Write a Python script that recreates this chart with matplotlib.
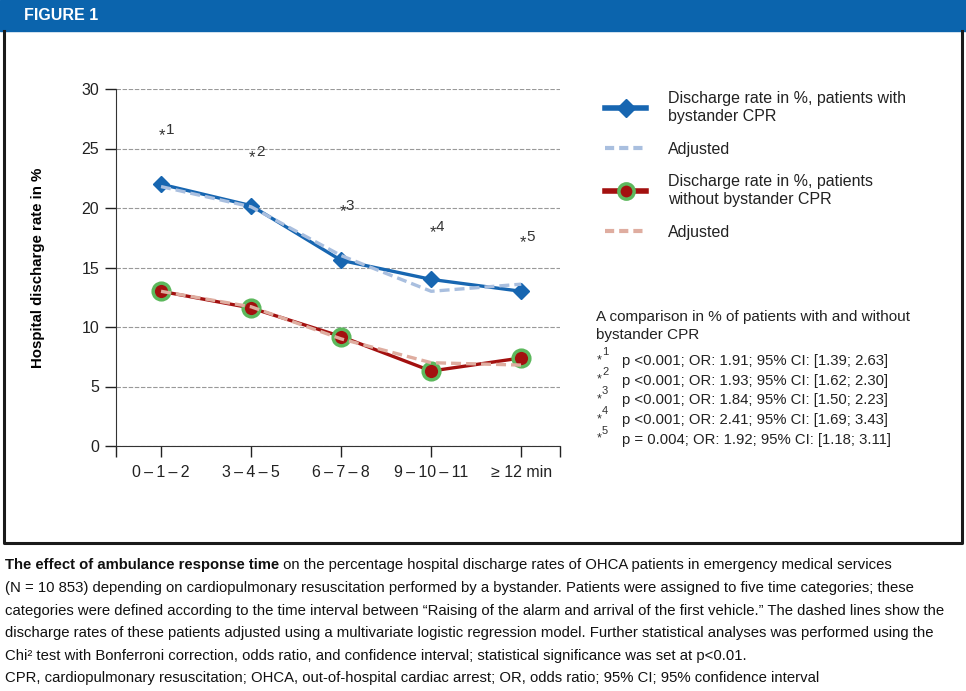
import matplotlib
matplotlib.use("Agg")
from matplotlib import pyplot as plt
from matplotlib import font_manager
from matplotlib.lines import Line2D
from matplotlib.patches import Rectangle
from matplotlib.text import Annotation
import numpy as np

plt.rcParams['font.family'] = ['Liberation Sans', 'DejaVu Sans']

names = {f.name for f in font_manager.fontManager.ttflist}
narrow = 'Liberation Sans Narrow' if 'Liberation Sans Narrow' in names else 'Liberation Sans'

# data
categories = ['0\u2009\u2013\u20091\u2009\u2013\u20092', '3\u2009\u2013\u20094\u2009\u2013\u20095',
              '6\u2009\u2013\u20097\u2009\u2013\u20098', '9\u2009\u2013\u200910\u2009\u2013\u200911',
              '\u2265 12 min']
with_cpr = [22.0, 20.2, 15.6, 14.0, 13.0]
with_cpr_adj = [21.8, 20.1, 16.0, 13.0, 13.6]
without_cpr = [13.0, 11.6, 9.2, 6.3, 7.4]
without_cpr_adj = [13.0, 11.7, 9.0, 7.0, 6.8]
star_y = [26.3, 24.4, 19.9, 18.15, 17.3]
stats = ['p <0.001; OR: 1.91; 95% CI: [1.39; 2.63]',
         'p <0.001; OR: 1.93; 95% CI: [1.62; 2.30]',
         'p <0.001; OR: 1.84; 95% CI: [1.50; 2.23]',
         'p <0.001; OR: 2.41; 95% CI: [1.69; 3.43]',
         'p = 0.004; OR: 1.92; 95% CI: [1.18; 3.11]']

blue = '#1766b1'
blue_light = '#a9bfdf'
red = '#a3100f'
red_light = '#dfada0'
green = '#5cb85c'

W, H = 966, 691
fig = plt.figure(figsize=(W/100, H/100), dpi=100)

def fx(px):
    return px / W

def fy(py):
    return 1 - py / H

# header band and frame
fig.patches.append(Rectangle((0, fy(31)), 1, 31/H, transform=fig.transFigure,
                             color='#0b64ad', zorder=0))
fig.text(fx(24), fy(16), 'FIGURE 1', color='white', fontsize=11.5, fontweight='bold',
         va='center', ha='left')
fig.add_artist(Line2D([fx(4), fx(4), fx(962), fx(962)], [fy(31), fy(543), fy(543), fy(31)],
                      transform=fig.transFigure, color='#1a1a1a', lw=2.2))

ax = fig.add_axes([fx(116), fy(446), fx(560 - 116), (446 - 89)/H])
x = np.arange(len(categories))

ax.plot(x, with_cpr, color=blue, lw=2.4, marker='D', markersize=8.5, zorder=3)
ax.plot(x, with_cpr_adj, color=blue_light, lw=2.4, ls=(0, (3, 1.5)), zorder=4)
ax.plot(x, without_cpr, color=red, lw=2.4, marker='o', markersize=12,
        markerfacecolor=red, markeredgecolor=green, markeredgewidth=2.5, zorder=3)
ax.plot(x, without_cpr_adj, color=red_light, lw=2.4, ls=(0, (3, 1.5)), zorder=4)

for i, yv in enumerate(star_y):
    ax.annotate('*', xy=(x[i], yv), xytext=(1, -5), textcoords='offset points',
                fontsize=12, ha='center', va='baseline', color='#333333')
    ax.annotate(str(i + 1), xy=(x[i], yv), xytext=(6.5, 2.5), textcoords='offset points',
                fontsize=11, ha='center', va='center', color='#333333')

ax.set_xlim(-0.5, 4.43)
ax.set_ylim(0, 30)
ax.set_yticks(np.arange(0, 31, 5))
ax.set_xticks(x)
ax.set_xticklabels(categories)
ax.set_xticks([-0.5, 4.43], minor=True)
ax.tick_params(axis='both', which='both', direction='out', length=8, width=1,
               labelsize=11.5, colors='#222222')
ax.tick_params(axis='x', pad=6)
ax.tick_params(axis='y', pad=4)
ax.grid(axis='y', color='#999999', ls=(0, (4, 1.5)), lw=0.8)
ax.set_axisbelow(True)
for s in ['top', 'right']:
    ax.spines[s].set_visible(False)
for s in ['left', 'bottom']:
    ax.spines[s].set_color('#333333')
ax.set_ylabel('Hospital discharge rate in %', fontsize=10.8, fontweight='bold', labelpad=26)

# legend
handles = [
    Line2D([], [], color=blue, lw=4, marker='D', markersize=9),
    Line2D([], [], color=blue_light, lw=3, ls=(0, (2.2, 1.2))),
    Line2D([], [], color=red, lw=4, marker='o', markersize=11,
           markerfacecolor=red, markeredgecolor=green, markeredgewidth=2.5),
    Line2D([], [], color=red_light, lw=3, ls=(0, (2.2, 1.2))),
]
labels = ['Discharge rate in %, patients with\nbystander CPR', 'Adjusted',
          'Discharge rate in %, patients\nwithout bystander CPR', 'Adjusted']
leg = fig.legend(handles, labels, loc='upper left', bbox_to_anchor=(fx(605), fy(91)),
                 frameon=False, fontsize=11.5, handlelength=2.57, handletextpad=1.38,
                 labelspacing=1.1, borderpad=0, borderaxespad=0, labelcolor='#222222')
for t in leg.get_texts():
    t.set_linespacing(1.25)

# comparison block
fig.text(fx(596), fy(310), 'A comparison in % of patients with and without\nbystander CPR',
         fontsize=11, va='top', ha='left', color='#222222', linespacing=1.4)
for i, s in enumerate(stats):
    yy = 361 + i * 19.7
    fig.text(fx(597), fy(yy - 1), '*', fontsize=9, va='center', ha='left', color='#333333')
    fig.text(fx(602), fy(yy - 9), str(i + 1), fontsize=8, va='center', ha='left', color='#333333')
    fig.text(fx(622), fy(yy), s, fontsize=10.75, va='center', ha='left', color='#222222')

# caption
bold = fig.text(fx(5), fy(565), 'The effect of ambulance response time', fontsize=10.75,
                family=narrow, fontweight='bold', va='center', ha='left', color='#111111')
ann = Annotation(' on the percentage hospital discharge rates of OHCA patients in emergency medical services',
                 xy=(1, 0.5), xycoords=bold, va='center', ha='left', fontsize=10.75,
                 family=narrow, color='#111111')
fig.add_artist(ann)
caption = ['(N = 10 853) depending on cardiopulmonary resuscitation performed by a bystander. Patients were assigned to five time categories; these',
           'categories were defined according to the time interval between \u201cRaising of the alarm and arrival of the first vehicle.\u201d The dashed lines show the',
           'discharge rates of these patients adjusted using a multivariate logistic regression model. Further statistical analyses was performed using the',
           'Chi\u00b2 test with Bonferroni correction, odds ratio, and confidence interval; statistical significance was set at p<0.01.',
           'CPR, cardiopulmonary resuscitation; OHCA, out-of-hospital cardiac arrest; OR, odds ratio; 95% CI; 95% confidence interval']
for i, line in enumerate(caption):
    fig.text(fx(5), fy(588 + i * 22.6), line, fontsize=10.75, family=narrow,
             va='center', ha='left', color='#111111')

fig.savefig('out.png', dpi=100)
